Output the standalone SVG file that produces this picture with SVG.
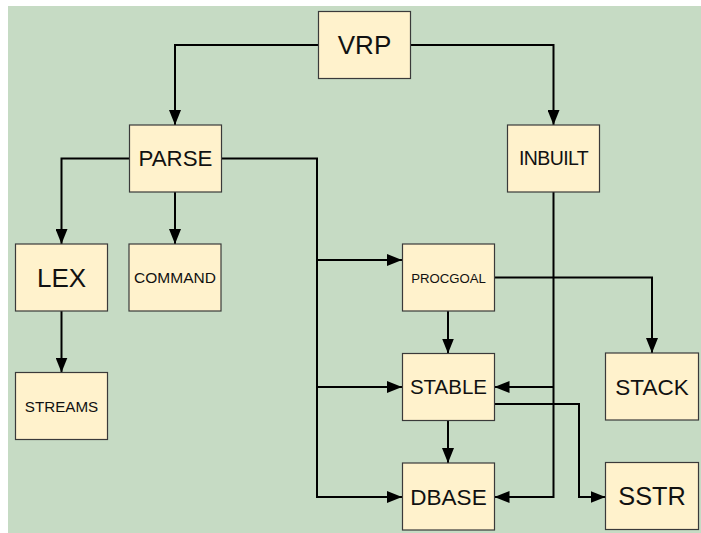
<svg xmlns="http://www.w3.org/2000/svg" width="701" height="533" viewBox="0 0 701 533">
<style>
.box{fill:#FFF2CC;stroke:#3a3a3a;stroke-width:1.2}
.lbl{font-family:"Liberation Sans",Arial,sans-serif;fill:#111;text-anchor:middle}
.con{fill:none;stroke:#000;stroke-width:2}
</style>
<defs>
<marker id="arr" markerUnits="userSpaceOnUse" markerWidth="15" markerHeight="12" refX="15" refY="6" orient="auto">
<path d="M0,0 L15,6 L0,12 z" fill="#000"/>
</marker>
</defs>
<rect x="0" y="0" width="701" height="533" fill="#fff"/>
<rect x="8" y="6" width="693" height="527" fill="#C6DBC4"/>
<g id="connectors">
<path class="con" d="M318,45 H175 V125" marker-end="url(#arr)"/>
<path class="con" d="M410,45 H553.5 V125" marker-end="url(#arr)"/>
<path class="con" d="M129,158.5 H61.5 V244" marker-end="url(#arr)"/>
<path class="con" d="M175,192 V244" marker-end="url(#arr)"/>
<path class="con" d="M61.5,311 V372.5" marker-end="url(#arr)"/>
<path class="con" d="M221,158.5 H317 V497 H402" marker-end="url(#arr)"/>
<path class="con" d="M317,260 H402" marker-end="url(#arr)"/>
<path class="con" d="M317,387 H402" marker-end="url(#arr)"/>
<path class="con" d="M553.5,192 V497 H494.5" marker-end="url(#arr)"/>
<path class="con" d="M553.5,387 H494.5" marker-end="url(#arr)"/>
<path class="con" d="M494,277.5 H652 V353" marker-end="url(#arr)"/>
<path class="con" d="M448,311 V353.5" marker-end="url(#arr)"/>
<path class="con" d="M448,420.5 V463" marker-end="url(#arr)"/>
<path class="con" d="M494,404 H579 V497 H605.5" marker-end="url(#arr)"/>
</g>
<g id="VRP"><rect class="box" x="318.5" y="11.5" width="92" height="67"/><text class="lbl" x="364.5" y="54.3" font-size="26">VRP</text></g>
<g id="PARSE"><rect class="box" x="129.5" y="125" width="92" height="67"/><text class="lbl" x="175.5" y="166.3" font-size="22.3">PARSE</text></g>
<g id="INBUILT"><rect class="box" x="507.5" y="125" width="92" height="67"/><text class="lbl" x="553.5" y="165.3" font-size="19.5" letter-spacing="-0.6">INBUILT</text></g>
<g id="LEX"><rect class="box" x="15.5" y="244" width="92" height="67"/><text class="lbl" x="61.5" y="286.8" font-size="26">LEX</text></g>
<g id="COMMAND"><rect class="box" x="129" y="244" width="92" height="67"/><text class="lbl" x="175" y="282.8" font-size="15.5">COMMAND</text></g>
<g id="STREAMS"><rect class="box" x="15.5" y="372.5" width="92" height="67"/><text class="lbl" x="61.5" y="411.5" font-size="15.2">STREAMS</text></g>
<g id="PROCGOAL"><rect class="box" x="402.5" y="244" width="92" height="67"/><text class="lbl" x="448.5" y="282.5" font-size="13.2">PROCGOAL</text></g>
<g id="STABLE"><rect class="box" x="402.5" y="353.5" width="92" height="67"/><text class="lbl" x="448.5" y="394" font-size="20.5">STABLE</text></g>
<g id="DBASE"><rect class="box" x="402.5" y="463" width="92" height="67"/><text class="lbl" x="448.5" y="504.5" font-size="22.5">DBASE</text></g>
<g id="STACK"><rect class="box" x="605.5" y="353" width="93" height="67"/><text class="lbl" x="652" y="394.5" font-size="22.5">STACK</text></g>
<g id="SSTR"><rect class="box" x="605.5" y="462.5" width="93" height="67"/><text class="lbl" x="652" y="505" font-size="25.3">SSTR</text></g>
</svg>
